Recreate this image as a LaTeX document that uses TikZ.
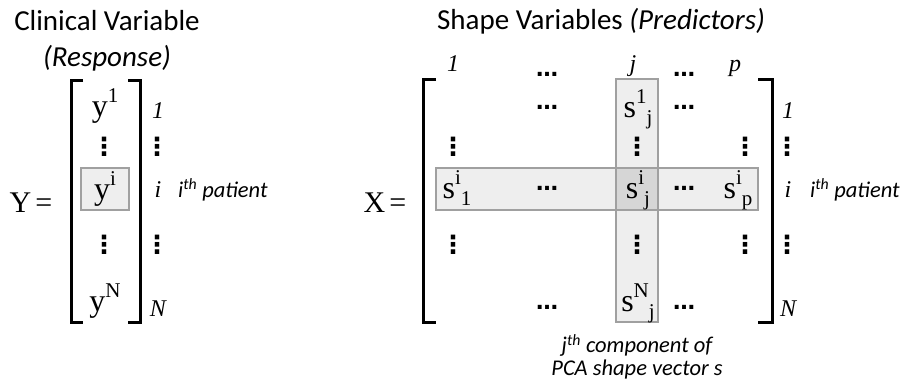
\documentclass[tikz,border=0pt]{standalone}
\usepackage{fontspec}
\setmainfont{Carlito}
\newfontfamily\entfont{Liberation Serif}
\newfontfamily\symfont{DejaVu Sans}
\usetikzlibrary{positioning, calc, backgrounds}
\definecolor{cellfill}{HTML}{EEEEEE}
\definecolor{cellcross}{HTML}{D6D6D6}
\definecolor{celledge}{HTML}{A0A0A0}

% element: base letter, superscript, then subscript set after it
\newcommand{\supsz}{\fontsize{21}{21}\selectfont}
\newcommand{\mel}[3]{#1\raisebox{0.42em}{\supsz #2}\raisebox{-0.22em}{\supsz #3}}
\newcommand{\vdts}{{\fontsize{25}{26}\selectfont ⋮}}
\newcommand{\hdts}{…}

\begin{document}
\begin{tikzpicture}[x=1pt, y=-1pt,
    title/.style={font=\fontsize{29}{30}\selectfont, inner sep=0pt},
    ent/.style={font=\entfont\fontsize{32}{34}\selectfont, inner sep=0pt},
    eqn/.style={font=\entfont\fontsize{30}{32}\selectfont, inner sep=0pt},
    idx/.style={font=\entfont\itshape\fontsize{24}{26}\selectfont, inner sep=0pt},
    dts/.style={font=\symfont\bfseries\fontsize{22}{24}\selectfont, inner sep=0pt},
    note/.style={font=\itshape\fontsize{22.5}{23}\selectfont, inner sep=0pt},
    brk/.style={line width=3pt},
    hilite/.style={fill=cellfill, draw=celledge, line width=1.2pt}]
  \useasboundingbox (0,0) rectangle (909,383);

  % --- Y: clinical variable (response), N x 1 ---
  \node[title] (ttlY) at (107,21) {Clinical Variable};
  \node[title] (ttlYsub) at (107,58) {\itshape (Response)};
  \node[eqn] (eqY) at (31,203) {Y\hspace{4pt}=};
  \draw[brk] (83,80) -- (71,80) -- (71,322) -- (83,322);
  \draw[brk] (128,80) -- (140,80) -- (140,322) -- (128,322);

  \node[ent, anchor=base] (y1) at (105,116) {\mel{y}{1}{}};
  \node[ent, hilite, minimum width=48, minimum height=42] (yi) at (105,189) {\mel{y}{i}{}};
  \node[ent, anchor=base] (yN) at (105,311) {\mel{y}{N}{}};
  \foreach \yy/\nm in {147/a, 245/b} {
    \node[dts] (yv\nm) at (104,\yy) {\vdts};
    \node[dts] (rYv\nm) at (157,\yy) {\vdts};
  }
  \foreach \lab/\yy/\nm in {1/118/a, i/197/b, N/316/c} {
    \node[idx, anchor=base] (rY\nm) at (158,\yy) {\lab};
  }
  \node[note, anchor=base west] (patY) at (178,197) {i\textsuperscript{th} patient};

  % --- X: shape variables (predictors), N x p ---
  \node[title] (ttlX) at (601,21) {Shape Variables \itshape (Predictors)};
  \node[eqn] (eqX) at (385,203) {X\hspace{4pt}=};
  \draw[hilite] (436,168) rectangle (758,210);
  \draw[hilite] (616,79) rectangle (658,322);
  \draw[hilite, fill=cellcross] (616,168) rectangle (658,210);
  \draw[brk] (436,79) -- (423,79) -- (423,322) -- (436,322);
  \draw[brk] (758,79) -- (772,79) -- (772,322) -- (758,322);

  % column indices
  \foreach \lab/\xx/\nm in {1/453/a, j/633/b, p/735/c} {
    \node[idx, anchor=base] (cX\nm) at (\xx,71) {\lab};
  }
  % horizontal dots: header, first row, row i, last row
  \foreach \yy/\nm in {76/h, 109/a, 190/b, 309/c} {
    \node[dts, anchor=base] (xl\nm) at (547,\yy) {\hdts};
    \node[dts, anchor=base] (xr\nm) at (684,\yy) {\hdts};
  }
  \node[ent, anchor=base] (s1j) at (638,117) {\mel{s}{1}{j}};
  \node[ent, anchor=base] (si1) at (457,198) {\mel{s}{i}{1}};
  \node[ent, anchor=base] (sij) at (638,198) {\mel{s}{i}{j}};
  \node[ent, anchor=base] (sip) at (738,198) {\mel{s}{i}{p}};
  \node[ent, anchor=base] (sNj) at (638,311) {\mel{s}{N}{j}};
  \foreach \yy/\nm in {147/a, 245/b} {
    \node[dts] (xv1\nm) at (453,\yy) {\vdts};
    \node[dts] (xvj\nm) at (637,\yy) {\vdts};
    \node[dts] (xvp\nm) at (745,\yy) {\vdts};
    \node[dts] (rXv\nm) at (787,\yy) {\vdts};
  }
  \foreach \lab/\yy/\nm in {1/118/a, i/197/b, N/316/c} {
    \node[idx, anchor=base] (rX\nm) at (788,\yy) {\lab};
  }
  \node[note, anchor=base west] (patX) at (810,197) {i\textsuperscript{th} patient};
  \node[note, align=center] (pca) at (637,357) {j\textsuperscript{th} component of\\PCA shape vector s};
\end{tikzpicture}
\end{document}
